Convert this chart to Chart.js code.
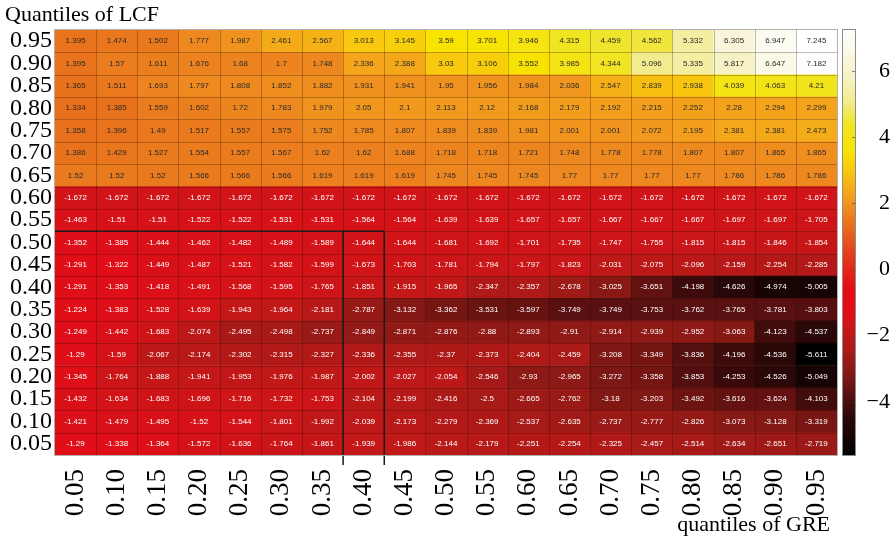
<!DOCTYPE html>
<html lang="en">
<head>
  <meta charset="UTF-8" />
  <title>Quantiles of LCF vs quantiles of GRE</title>
  <script src="https://cdn.jsdelivr.net/npm/chart.js"></script>
  <style>
    html, body { margin: 0; padding: 0; background: #fff; }
    #wrap { width: 893px; height: 544px; }
  </style>
</head>
<body>
  <div id="wrap"><canvas id="heat"></canvas></div>

  <script>
    // quantiles on each axis
    const greLabels = ['0.05','0.10','0.15','0.20','0.25','0.30','0.35','0.40','0.45','0.50',
                       '0.55','0.60','0.65','0.70','0.75','0.80','0.85','0.90','0.95'];
    const lcfLabels = ['0.05','0.10','0.15','0.20','0.25','0.30','0.35','0.40','0.45','0.50',
                       '0.55','0.60','0.65','0.70','0.75','0.80','0.85','0.90','0.95'];

    // one row per LCF quantile, columns follow greLabels
    const q95 = [1.395, 1.474, 1.502, 1.777, 1.987, 2.461, 2.567, 3.013, 3.145, 3.59, 3.701, 3.946, 4.315, 4.459, 4.562, 5.332, 6.305, 6.947, 7.245];
    const q90 = [1.395, 1.57, 1.611, 1.676, 1.68, 1.7, 1.748, 2.336, 2.388, 3.03, 3.106, 3.552, 3.985, 4.344, 5.096, 5.335, 5.817, 6.647, 7.182];
    const q85 = [1.365, 1.511, 1.693, 1.797, 1.808, 1.852, 1.882, 1.931, 1.941, 1.95, 1.956, 1.984, 2.036, 2.547, 2.839, 2.938, 4.039, 4.063, 4.21];
    const q80 = [1.334, 1.385, 1.559, 1.602, 1.72, 1.783, 1.979, 2.05, 2.1, 2.113, 2.12, 2.168, 2.179, 2.192, 2.215, 2.252, 2.28, 2.294, 2.299];
    const q75 = [1.358, 1.396, 1.49, 1.517, 1.557, 1.575, 1.752, 1.785, 1.807, 1.839, 1.839, 1.981, 2.001, 2.001, 2.072, 2.195, 2.381, 2.381, 2.473];
    const q70 = [1.386, 1.429, 1.527, 1.554, 1.557, 1.567, 1.62, 1.62, 1.688, 1.718, 1.718, 1.721, 1.748, 1.778, 1.778, 1.807, 1.807, 1.865, 1.865];
    const q65 = [1.52, 1.52, 1.52, 1.566, 1.566, 1.566, 1.619, 1.619, 1.619, 1.745, 1.745, 1.745, 1.77, 1.77, 1.77, 1.77, 1.786, 1.786, 1.786];
    const q60 = [-1.672, -1.672, -1.672, -1.672, -1.672, -1.672, -1.672, -1.672, -1.672, -1.672, -1.672, -1.672, -1.672, -1.672, -1.672, -1.672, -1.672, -1.672, -1.672];
    const q55 = [-1.463, -1.51, -1.51, -1.522, -1.522, -1.531, -1.531, -1.564, -1.564, -1.639, -1.639, -1.657, -1.657, -1.667, -1.667, -1.667, -1.697, -1.697, -1.705];
    const q50 = [-1.352, -1.385, -1.444, -1.462, -1.482, -1.489, -1.589, -1.644, -1.644, -1.681, -1.692, -1.701, -1.735, -1.747, -1.755, -1.815, -1.815, -1.846, -1.854];
    const q45 = [-1.291, -1.322, -1.449, -1.487, -1.521, -1.582, -1.599, -1.673, -1.703, -1.781, -1.794, -1.797, -1.823, -2.031, -2.075, -2.096, -2.159, -2.254, -2.285];
    const q40 = [-1.291, -1.353, -1.418, -1.491, -1.568, -1.595, -1.765, -1.851, -1.915, -1.965, -2.347, -2.357, -2.678, -3.025, -3.651, -4.198, -4.626, -4.974, -5.005];
    const q35 = [-1.224, -1.383, -1.528, -1.639, -1.943, -1.964, -2.181, -2.787, -3.132, -3.362, -3.531, -3.597, -3.749, -3.749, -3.753, -3.762, -3.765, -3.781, -3.803];
    const q30 = [-1.249, -1.442, -1.683, -2.074, -2.495, -2.498, -2.737, -2.849, -2.871, -2.876, -2.88, -2.893, -2.91, -2.914, -2.939, -2.952, -3.063, -4.123, -4.537];
    const q25 = [-1.29, -1.59, -2.067, -2.174, -2.302, -2.315, -2.327, -2.336, -2.355, -2.37, -2.373, -2.404, -2.459, -3.208, -3.349, -3.836, -4.196, -4.536, -5.611];
    const q20 = [-1.345, -1.764, -1.888, -1.941, -1.953, -1.976, -1.987, -2.002, -2.027, -2.054, -2.546, -2.93, -2.965, -3.272, -3.358, -3.853, -4.253, -4.526, -5.049];
    const q15 = [-1.432, -1.634, -1.683, -1.696, -1.716, -1.732, -1.753, -2.104, -2.199, -2.416, -2.5, -2.665, -2.762, -3.18, -3.203, -3.492, -3.616, -3.624, -4.103];
    const q10 = [-1.421, -1.479, -1.495, -1.52, -1.544, -1.801, -1.992, -2.039, -2.173, -2.279, -2.369, -2.537, -2.635, -2.737, -2.777, -2.826, -3.073, -3.128, -3.319];
    const q05 = [-1.29, -1.338, -1.364, -1.572, -1.636, -1.764, -1.861, -1.939, -1.986, -2.144, -2.179, -2.251, -2.254, -2.325, -2.457, -2.514, -2.634, -2.651, -2.719];

    // bottom row first, so the stack grows upwards
    const rows = [q05, q10, q15, q20, q25, q30, q35, q40, q45, q50, q55, q60, q65, q70, q75, q80, q85, q90, q95];

    const colorbarTicks = [-4, -2, 0, 2, 4, 6];

    // outlined block: column 0.40, rows 0.50 and below
    const markedColumn = '0.40';
    const markedTopRow = '0.50';

    const allValues = rows.flat();
    const vmin = Math.min(...allValues);
    const vmax = Math.max(...allValues);

    // black -> dark red -> red -> orange -> yellow -> white
    const cmap = [
      [-5.611, [0, 0, 0]],
      [-5.0, [24, 4, 4]],
      [-4.5, [44, 8, 8]],
      [-4.1, [66, 12, 12]],
      [-3.75, [90, 16, 16]],
      [-3.5, [108, 20, 18]],
      [-3.2, [128, 24, 20]],
      [-2.9, [144, 26, 22]],
      [-2.5, [168, 26, 24]],
      [-2.0, [192, 24, 24]],
      [-1.67, [208, 20, 24]],
      [-1.3, [224, 14, 24]],
      [-0.6, [230, 12, 20]],
      [0.4, [228, 58, 28]],
      [1.35, [232, 112, 28]],
      [1.8, [238, 138, 32]],
      [2.4, [245, 168, 26]],
      [3.0, [248, 200, 14]],
      [3.6, [248, 228, 0]],
      [4.4, [240, 228, 36]],
      [5.1, [242, 236, 144]],
      [5.8, [246, 242, 196]],
      [6.4, [249, 246, 222]],
      [7.245, [255, 255, 255]]
    ];

    function heatColor(v) {
      if (v <= cmap[0][0]) return `rgb(${cmap[0][1].join(',')})`;
      for (let i = 1; i < cmap.length; i++) {
        if (v <= cmap[i][0]) {
          const [a, ca] = cmap[i - 1];
          const [b, cb] = cmap[i];
          const t = (v - a) / (b - a);
          const c = ca.map((x, k) => Math.round(x + (cb[k] - x) * t));
          return `rgb(${c.join(',')})`;
        }
      }
      return `rgb(${cmap[cmap.length - 1][1].join(',')})`;
    }

    const serif = '"Liberation Serif", "Times New Roman", serif';

    const datasets = rows.map((row, r) => ({
      label: lcfLabels[r],
      data: row.map(() => 1),
      cellValues: row,
      backgroundColor: row.map(heatColor),
      borderWidth: 0,
      barPercentage: 1,
      categoryPercentage: 1
    }));

    // cell borders, numbers, outlined block, plot frame, axis titles
    const heatDecor = {
      id: 'heatDecor',
      afterDatasetsDraw(chart) {
        const ctx = chart.ctx;
        const xs = chart.scales.x;
        const ys = chart.scales.y;
        const area = chart.chartArea;
        ctx.save();

        ctx.strokeStyle = 'rgba(40, 10, 0, 0.28)';
        ctx.lineWidth = 1;
        ctx.beginPath();
        for (let c = 1; c < greLabels.length; c++) {
          const px = Math.round(xs.getPixelForValue(c - 0.5)) + 0.5;
          ctx.moveTo(px, area.top);
          ctx.lineTo(px, area.bottom);
        }
        for (let r = 1; r < rows.length; r++) {
          const py = Math.round(ys.getPixelForValue(r)) + 0.5;
          ctx.moveTo(area.left, py);
          ctx.lineTo(area.right, py);
        }
        ctx.stroke();

        ctx.font = '8px "Liberation Sans", Arial, sans-serif';
        ctx.textAlign = 'center';
        ctx.textBaseline = 'middle';
        chart.data.datasets.forEach((ds, r) => {
          chart.getDatasetMeta(r).data.forEach((bar, c) => {
            const v = ds.cellValues[c];
            ctx.fillStyle = v < 0 ? '#ffffff' : '#2a2a2a';
            ctx.fillText(String(v), bar.x, (bar.y + bar.base) / 2);
          });
        });

        const ci = greLabels.indexOf(markedColumn);
        const ri = lcfLabels.indexOf(markedTopRow);
        const xl = xs.getPixelForValue(ci - 0.5);
        const xr = xs.getPixelForValue(ci + 0.5);
        const yt = ys.getPixelForValue(ri + 1);
        ctx.strokeStyle = '#1a1a1a';
        ctx.lineWidth = 1.5;
        ctx.beginPath();
        ctx.moveTo(area.left, yt);
        ctx.lineTo(xr, yt);
        ctx.moveTo(xl, yt);
        ctx.lineTo(xl, area.bottom + 10);
        ctx.moveTo(xr, yt);
        ctx.lineTo(xr, area.bottom + 10);
        ctx.stroke();

        ctx.strokeStyle = '#b0b0b0';
        ctx.lineWidth = 1;
        ctx.strokeRect(area.left - 0.5, area.top - 0.5, area.right - area.left + 1, area.bottom - area.top + 1);

        ctx.fillStyle = '#000';
        ctx.font = '22px ' + serif;
        ctx.textBaseline = 'middle';
        ctx.textAlign = 'left';
        ctx.fillText('Quantiles of LCF', 5, 15);
        ctx.textAlign = 'right';
        ctx.fillText('quantiles of GRE', area.right - 7, 525);
        ctx.restore();
      },
      afterDraw(chart) {
        // colour bar on the right-hand scale
        const ctx = chart.ctx;
        const cb = chart.scales.cbar;
        const x0 = cb.left + 6;
        const w = 12;
        const top = cb.getPixelForValue(vmax);
        const bottom = cb.getPixelForValue(vmin);
        ctx.save();
        for (let py = Math.floor(top); py < bottom; py++) {
          ctx.fillStyle = heatColor(cb.getValueForPixel(py + 0.5));
          ctx.fillRect(x0, py, w, 1);
        }
        ctx.strokeStyle = '#8c8c8c';
        ctx.lineWidth = 1;
        ctx.strokeRect(x0 - 0.5, top - 0.5, w + 1, bottom - top + 1);
        ctx.strokeStyle = 'rgba(60,60,60,0.6)';
        ctx.beginPath();
        colorbarTicks.forEach(v => {
          const py = Math.round(cb.getPixelForValue(v)) + 0.5;
          ctx.moveTo(x0 + w - 3, py);
          ctx.lineTo(x0 + w, py);
        });
        ctx.stroke();
        ctx.restore();
      }
    };

    new Chart(document.getElementById('heat'), {
      type: 'bar',
      data: { labels: greLabels, datasets },
      options: {
        responsive: true,
        maintainAspectRatio: false,
        animation: false,
        layout: { padding: { top: 30, left: 0, right: 3, bottom: 0 } },
        plugins: {
          legend: { display: false },
          tooltip: { enabled: false }
        },
        scales: {
          x: {
            stacked: true,
            grid: { display: false },
            border: { display: false },
            ticks: {
              autoSkip: false,
              minRotation: 90,
              maxRotation: 90,
              padding: 6,
              color: '#000',
              font: { family: serif, size: 27 }
            },
            afterFit: s => { s.height = 89; }
          },
          y: {
            stacked: true,
            min: 0,
            max: rows.length,
            grid: { display: false, drawTicks: false },
            border: { display: false },
            afterBuildTicks: s => { s.ticks = lcfLabels.map((_, i) => ({ value: i + 0.5 })); },
            ticks: {
              autoSkip: false,
              padding: 3,
              color: '#000',
              font: { family: serif, size: 24 },
              callback: v => lcfLabels[Math.floor(v)]
            },
            afterFit: s => { s.width = 55; }
          },
          cbar: {
            type: 'linear',
            position: 'right',
            min: vmin,
            max: vmax,
            grid: { display: false },
            border: { display: false },
            afterBuildTicks: s => { s.ticks = colorbarTicks.map(v => ({ value: v })); },
            ticks: {
              crossAlign: 'far',
              padding: 0,
              color: '#000',
              font: { family: serif, size: 22 },
              callback: v => (v < 0 ? '\u2212' + Math.abs(v) : String(v))
            },
            afterFit: s => { s.width = 53; }
          }
        }
      },
      plugins: [heatDecor]
    });
  </script>
</body>
</html>
